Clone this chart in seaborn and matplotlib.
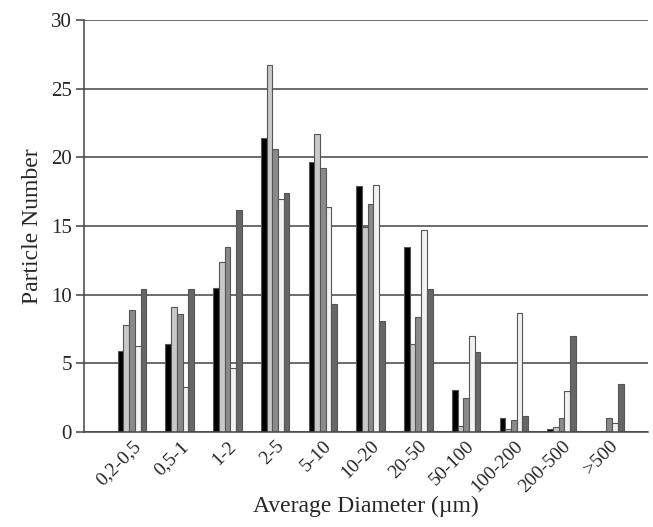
import matplotlib
matplotlib.use("Agg")
import matplotlib.pyplot as plt
import seaborn as sns
import pandas as pd

categories = ["0,2-0,5", "0,5-1", "1-2", "2-5", "5-10", "10-20", "20-50",
              "50-100", "100-200", "200-500", ">500"]
series_names = ["S1", "S2", "S3", "S4", "S5"]
s1 = [5.9, 6.4, 10.5, 21.4, 19.7, 17.9, 13.5, 3.1, 1.0, 0.25, 0.0]
s2 = [7.8, 9.1, 12.4, 26.7, 21.7, 14.9, 6.4, 0.45, 0.2, 0.4, 0.1]
s3 = [8.9, 8.6, 13.5, 20.6, 19.2, 16.6, 8.4, 2.45, 0.9, 1.0, 1.0]
s4 = [6.3, 3.3, 4.7, 17.0, 16.4, 18.0, 14.7, 7.0, 8.7, 3.0, 0.7]
s5 = [10.4, 10.4, 16.2, 17.4, 9.3, 8.1, 10.4, 5.8, 1.15, 7.0, 3.5]
colors = ["#000000", "#c9c9c9", "#8a8a8a", "#f2f2f2", "#666666"]

rows = []
for name, vals in zip(series_names, [s1, s2, s3, s4, s5]):
    for c, v in zip(categories, vals):
        rows.append({"cat": c, "series": name, "value": v})
df = pd.DataFrame(rows)

sns.set_style("white")
plt.rcParams["font.family"] = ["Liberation Serif", "DejaVu Serif"]

fig = plt.figure(figsize=(6.53, 5.27), dpi=100)
ax = fig.add_axes([0.129, 0.180, 0.864, 0.782])

sns.barplot(data=df, x="cat", y="value", hue="series", order=categories,
            hue_order=series_names, palette=colors, width=0.6,
            edgecolor="#555555", linewidth=0.8, ax=ax, legend=False,
            errorbar=None, saturation=1)

ax.set_ylim(0, 30)
ax.set_xlim(-1.0, 10.82)
ax.set_yticks([0, 5, 10, 15, 20, 25, 30])
ax.yaxis.grid(True, color="#444444", linewidth=1.1)
ax.set_axisbelow(True)
for s in ["top", "right"]:
    ax.spines[s].set_visible(False)
for s in ["left", "bottom"]:
    ax.spines[s].set_color("#444444")
    ax.spines[s].set_linewidth(1.1)
ax.tick_params(axis="y", which="major", length=6, width=1.1, color="#444444",
               direction="out", left=True, labelsize=15, pad=3)
ax.tick_params(axis="x", length=0, labelsize=14, pad=4)
plt.setp(ax.get_xticklabels(), rotation=45, ha="right", rotation_mode="anchor")
ax.set_ylabel("Particle Number", fontsize=17, labelpad=6)
ax.set_xlabel("Average Diameter (µm)", fontsize=17, labelpad=0)

fig.savefig("out.png", dpi=100)
